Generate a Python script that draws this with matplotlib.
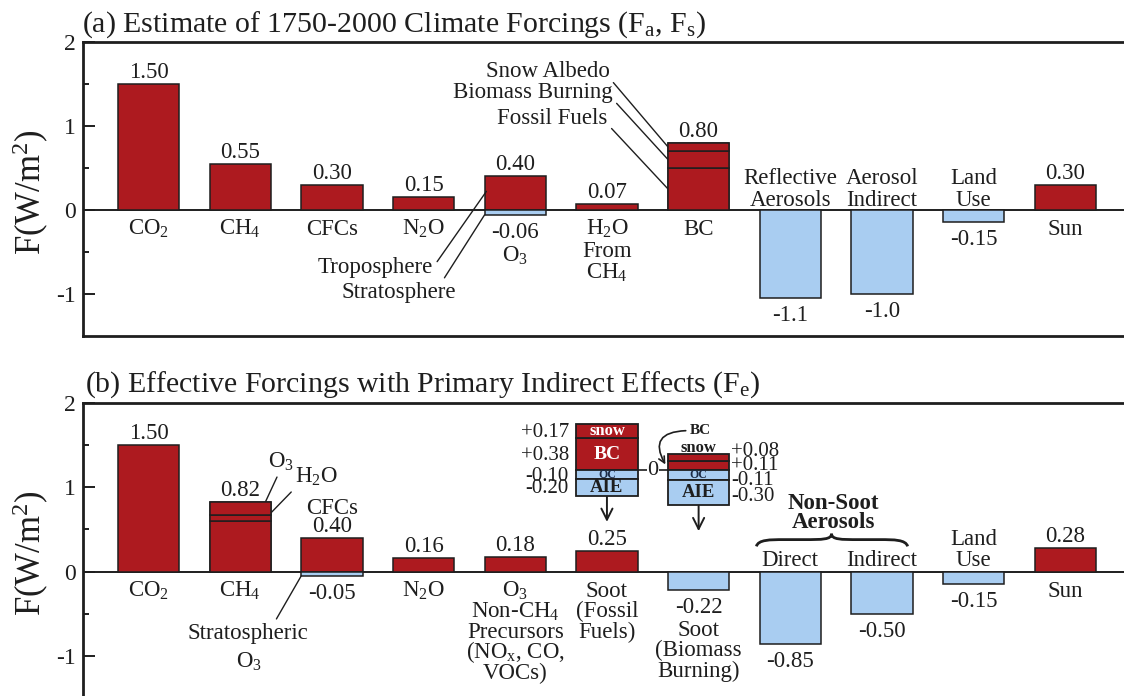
import numpy as np
import matplotlib
matplotlib.use('Agg')
import matplotlib.pyplot as plt
from matplotlib.path import Path
from matplotlib.patches import PathPatch

plt.rcParams['font.family'] = ['Liberation Serif', 'DejaVu Serif']
plt.rcParams['mathtext.fontset'] = 'custom'
plt.rcParams['mathtext.rm'] = 'Liberation Serif'
plt.rcParams['mathtext.default'] = 'regular'
plt.rcParams['axes.unicode_minus'] = False
plt.rcParams['text.color'] = '#1e1e1e'

RED = '#ad1a1f'
BLUE = '#a9cdf1'
INK = '#1e1e1e'
W = 0.67
FS = 16.5

# (a) 1750-2000 forcings
cats_a = ['CO$_2$', 'CH$_4$', 'CFCs', 'N$_2$O', 'O$_3$', 'H$_2$O\nFrom\nCH$_4$', 'BC',
          'Reflective\nAerosols', 'Aerosol\nIndirect', 'Land\nUse', 'Sun']
pos_a = [1.50, 0.55, 0.30, 0.15, 0.40, 0.07, 0.80, 0, 0, 0, 0.30]
neg_a = [0, 0, 0, 0, -0.06, 0, 0, -1.05, -1.00, -0.15, 0]
pos_txt_a = ['1.50', '0.55', '0.30', '0.15', '0.40', '0.07', '0.80', '', '', '', '0.30']
neg_txt_a = ['', '', '', '', '-0.06', '', '', '-1.1', '-1.0', '-0.15', '']
cat_above_a = [False] * 7 + [True] * 3 + [False]
bc_parts_a = [0.50, 0.20, 0.10]
bc_names_a = ['Fossil Fuels', 'Biomass Burning', 'Snow Albedo']

# (b) effective forcings
cats_b = ['CO$_2$', 'CH$_4$', 'CFCs', 'N$_2$O',
          'O$_3$\nNon-CH$_4$\nPrecursors\n(NO$_x$, CO,\nVOCs)',
          'Soot\n(Fossil\nFuels)', 'Soot\n(Biomass\nBurning)',
          'Direct', 'Indirect', 'Land\nUse', 'Sun']
pos_b = [1.50, 0.82, 0.40, 0.16, 0.18, 0.25, 0, 0, 0, 0, 0.28]
neg_b = [0, 0, -0.05, 0, 0, 0, -0.22, -0.85, -0.50, -0.15, 0]
pos_txt_b = ['1.50', '0.82', '0.40', '0.16', '0.18', '0.25', '', '', '', '', '0.28']
neg_txt_b = ['', '', '-0.05', '', '', '', '-0.22', '-0.85', '-0.50', '-0.15', '']
cat_above_b = [False, False, True, False, False, False, False, True, True, True, False]
ch4_parts_b = [0.60, 0.07, 0.15]   # CH4 itself, H2O, O3

# soot breakdown insets: BC, snow, OC, AIE
inset_names = ['BC', 'snow', 'OC', 'AIE']
soot_ff = [0.38, 0.17, -0.10, -0.20]
soot_bb = [0.11, 0.08, -0.11, -0.30]
soot_ff_txt = ['+0.38', '+0.17', '-0.10', '-0.20']
soot_bb_txt = ['+0.11', '+0.08', '-0.11', '-0.30']


def label(ax, x, y, s, dy, size=FS, weight='normal', ha='center'):
    ax.annotate(s, (x, y), xytext=(0, dy), textcoords='offset pixels',
                ha=ha, va='baseline', fontsize=size, fontweight=weight)


def frame(ax):
    ax.set_xlim(-0.715, 10.64)
    ax.set_ylim(-1.5, 2)
    ax.axhline(0, color=INK, lw=1.4, zorder=2)
    ax.set_yticks([-1, 0, 1, 2])
    ax.set_yticklabels(['-1', '0', '1', '2'])
    ax.set_yticks([-0.5, 0.5, 1.5], minor=True)
    ax.set_xticks([])
    ax.tick_params(axis='y', which='major', direction='in', length=8.5, width=1.4,
                   labelsize=17, pad=5, colors=INK)
    ax.tick_params(axis='y', which='minor', direction='in', length=4, width=1.4, colors=INK)
    ax.spines['right'].set_visible(False)
    for s in ax.spines.values():
        s.set_linewidth(2)
        s.set_color(INK)


def panel(ax, cats, pos, neg, pos_txt, neg_txt, above, step, up0):
    x = np.arange(len(cats))
    pos = np.array(pos, float)
    neg = np.array(neg, float)
    m = pos > 0
    ax.bar(x[m], pos[m], W, color=RED, edgecolor=INK, lw=1.1, zorder=3)
    m = neg < 0
    ax.bar(x[m], neg[m], W, color=BLUE, edgecolor=INK, lw=1.1, zorder=3)
    for i, c in enumerate(cats):
        lines = c.split('\n')
        if pos_txt[i]:
            label(ax, i, pos[i], pos_txt[i], 13 - 7)
        if neg_txt[i]:
            label(ax, i, neg[i], neg_txt[i], -(16 + 7))
        if above[i]:
            d = 31 if pos_txt[i] else up0
            for k, s in enumerate(reversed(lines)):
                label(ax, i, pos[i], s, d + k * step - 7)
        else:
            if neg_txt[i]:
                ref, d = neg[i], 16 + step + 2
            else:
                ref, d = 0, 18
            for k, s in enumerate(lines):
                label(ax, i, ref, s, -(d + k * step + 7))


fig = plt.figure(figsize=(11.24, 6.96), dpi=100)
ax_a = fig.add_axes([83 / 1124, 1 - 336 / 696, 1 - 83 / 1124, (336 - 41.7) / 696])
ax_b = fig.add_axes([83 / 1124, 1 - 698.5 / 696, 1 - 83 / 1124, (698.5 - 402.7) / 696])
frame(ax_a)
frame(ax_b)

# ---- panel (a)
panel(ax_a, cats_a, pos_a, neg_a, pos_txt_a, neg_txt_a, cat_above_a, 22, 11)

bc_i = cats_a.index('BC')
bot = np.cumsum([0] + bc_parts_a[:-1])
ax_a.bar([bc_i] * 3, bc_parts_a, W, bottom=bot, color=RED, edgecolor=INK, lw=1.1, zorder=4)
for name, b, h, ty, tx in zip(bc_names_a, bot, bc_parts_a, [1.09, 1.39, 1.64], [5.01, 5.065, 5.03]):
    ax_a.annotate(name, xy=(bc_i - W / 2, b + h / 2), xytext=(tx, ty), ha='right', va='center',
                  fontsize=FS, arrowprops=dict(arrowstyle='-', color=INK, lw=1.0,
                                               shrinkA=1, shrinkB=0, relpos=(1, 0.2)))

o3_i = 4
ax_a.annotate('Troposphere', xy=(o3_i - W / 2 + 0.02, pos_a[o3_i] * 0.55), xytext=(3.10, -0.69),
              ha='right', va='center', fontsize=FS,
              arrowprops=dict(arrowstyle='-', color=INK, lw=1.0, shrinkA=2, shrinkB=0, relpos=(1, 0.5)))
ax_a.annotate('Stratosphere', xy=(o3_i - W / 2, neg_a[o3_i]), xytext=(3.35, -0.98),
              ha='right', va='center', fontsize=FS,
              arrowprops=dict(arrowstyle='-', color=INK, lw=1.0, shrinkA=1, shrinkB=0, relpos=(0.88, 1)))

fig.text(82 / 1124, 1 - 31.5 / 696, '(a) Estimate of 1750-2000 Climate Forcings (F$_a$, F$_s$)',
         fontsize=21.5, va='baseline')
fig.text(31 / 1124, 1 - 192 / 696, 'F(W/m$^2$)', rotation=90, ha='center', va='center', fontsize=25)

# ---- panel (b)
panel(ax_b, cats_b, pos_b, neg_b, pos_txt_b, neg_txt_b, cat_above_b, 20.5, 13)

ch4_i = 1
bot = np.cumsum([0] + ch4_parts_b[:-1])
ax_b.bar([ch4_i] * 3, ch4_parts_b, W, bottom=bot, color=RED, edgecolor=INK, lw=1.1, zorder=4)
ax_b.annotate('O$_3$', xy=(ch4_i + 0.24, bot[2] + ch4_parts_b[2] / 2), xytext=(1.45, 1.30),
              ha='center', va='center', fontsize=FS,
              arrowprops=dict(arrowstyle='-', color=INK, lw=1.0, shrinkA=1, shrinkB=0, relpos=(0.4, 0)))
ax_b.annotate('H$_2$O', xy=(ch4_i + 0.28, bot[1] + ch4_parts_b[1] / 2), xytext=(1.83, 1.12),
              ha='center', va='center', fontsize=FS,
              arrowprops=dict(arrowstyle='-', color=INK, lw=1.0, shrinkA=1, shrinkB=0, relpos=(0.05, 0.1)))

cfc_i = 2
ax_b.annotate('Stratospheric', xy=(cfc_i - W / 2, neg_b[cfc_i]), xytext=(1.08, -0.73),
              ha='center', va='center', fontsize=FS,
              arrowprops=dict(arrowstyle='-', color=INK, lw=1.0, shrinkA=1, shrinkB=0, relpos=(0.72, 1)))
ax_b.text(1.10, -1.07, 'O$_3$', ha='center', va='center', fontsize=FS)

# soot insets
base = 1.2
for xi, vals, txts in [(5, soot_ff, soot_ff_txt), (6, soot_bb, soot_bb_txt)]:
    vals = np.array(vals)
    p = vals[vals > 0]
    n = vals[vals < 0]
    bottoms = np.concatenate([base + np.cumsum(np.r_[0, p[:-1]]), base + np.cumsum(n)])
    heights = np.concatenate([p, -n])
    colors = [RED] * len(p) + [BLUE] * len(n)
    ax_b.bar([xi] * len(vals), heights, W, bottom=bottoms, color=colors, edgecolor=INK,
             lw=1.3, zorder=4)
    centers = bottoms + heights / 2
    if xi == 5:
        styles = [(14, 'white'), (12, 'white'), (8.5, '#1c2a44'), (13.5, INK)]
        for name, cy, (fs, col) in zip(inset_names, centers, styles):
            ax_b.text(xi, cy, name, ha='center', va='center', fontsize=fs,
                      fontweight='bold', color=col, zorder=5)
        for t, cy in zip(txts, centers):
            ax_b.text(xi - W / 2 - 0.08, cy - 0.02, t, ha='right', va='center', fontsize=15)
    else:
        ax_b.text(xi, centers[2], 'OC', ha='center', va='center', fontsize=8.5,
                  fontweight='bold', color='#1c2a44', zorder=5)
        ax_b.text(xi, centers[3], 'AIE', ha='center', va='center', fontsize=13.5,
                  fontweight='bold', zorder=5)
        ax_b.text(xi, base + p.sum() + 0.075, 'snow', ha='center', va='center', fontsize=12,
                  fontweight='bold')
        for t, cy, sp in zip(txts, centers, [0.0, 0.07, -0.065, -0.05]):
            ax_b.text(xi + W / 2 + 0.02, cy + sp, t, ha='left', va='center', fontsize=15)
        ax_b.annotate('BC', xy=(xi - W / 2 - 0.02, centers[0]), xytext=(xi + 0.02, 1.67),
                      ha='center', va='center', fontsize=11, fontweight='bold',
                      arrowprops=dict(arrowstyle='->', color=INK, lw=1.2, shrinkA=1, shrinkB=1,
                                      relpos=(0, 0.5),
                                      connectionstyle='angle3,angleA=0,angleB=120'))
    low = base + n.sum()
    ax_b.annotate('', xy=(xi, low - 0.31), xytext=(xi, low - 0.01),
                  arrowprops=dict(arrowstyle='->', color=INK, lw=1.4, mutation_scale=20,
                                  shrinkA=0, shrinkB=0))

ax_b.plot([5 + W / 2, 6 - W / 2], [base, base], color=INK, lw=1.2, zorder=3)
ax_b.text(5.5, base, '0', ha='center', va='center', fontsize=16, zorder=4,
          bbox=dict(facecolor='white', edgecolor='none', pad=0.3))

# non-soot aerosols brace
x0, x1, xm = 6.63, 8.28, 7.45
ye, ym, yt = 0.30, 0.38, 0.45
verts = [(x0, ye), (x0 + 0.02, ym), (x0 + 0.15, ym), (x0 + 0.3, ym),
         (xm - 0.3, ym),
         (xm - 0.1, ym), (xm, ym), (xm, yt),
         (xm, ym), (xm + 0.1, ym), (xm + 0.3, ym),
         (x1 - 0.3, ym),
         (x1 - 0.15, ym), (x1 - 0.02, ym), (x1, ye)]
codes = [Path.MOVETO, Path.CURVE4, Path.CURVE4, Path.CURVE4, Path.LINETO,
         Path.CURVE4, Path.CURVE4, Path.CURVE4,
         Path.CURVE4, Path.CURVE4, Path.CURVE4, Path.LINETO,
         Path.CURVE4, Path.CURVE4, Path.CURVE4]
ax_b.add_patch(PathPatch(Path(verts, codes), facecolor='none', edgecolor=INK, lw=2))
ax_b.text(xm + 0.02, 0.81, 'Non-Soot', ha='center', va='center', fontsize=16.5, fontweight='bold')
ax_b.text(xm + 0.02, 0.58, 'Aerosols', ha='center', va='center', fontsize=16.5, fontweight='bold')

fig.text(85 / 1124, 1 - 391.7 / 696, '(b) Effective Forcings with Primary Indirect Effects (F$_e$)',
         fontsize=21.5, va='baseline')
fig.text(31 / 1124, 1 - 553 / 696, 'F(W/m$^2$)', rotation=90, ha='center', va='center', fontsize=25)

fig.savefig('out.png', dpi=100)
